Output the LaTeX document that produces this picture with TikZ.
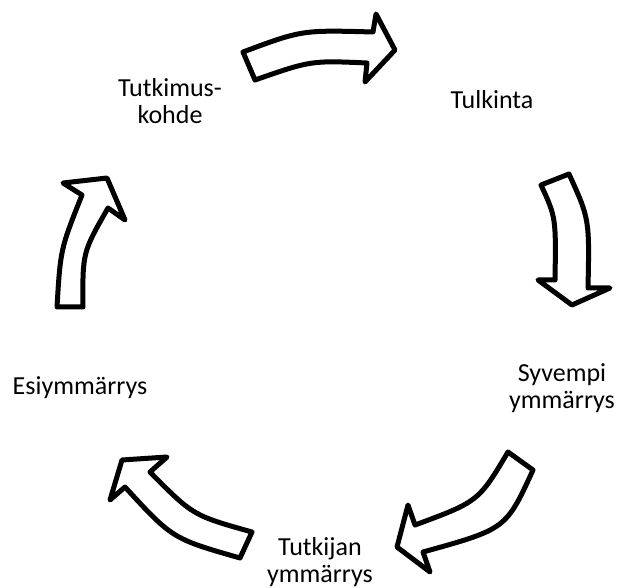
\documentclass[tikz,border=0pt]{standalone}
\usepackage{fontspec}
\setmainfont{Carlito}
\begin{document}
\begin{tikzpicture}[x=1pt,y=-1pt,
  cyclearrow/.style={draw=black,fill=white,line width=5pt,line join=round},
  lbl/.style={inner sep=0pt,align=center,anchor=base,font=\fontsize{26}{27}\selectfont,text=black}]
\useasboundingbox (0,0) rectangle (619,588);
% arrows
\draw[cyclearrow] (243,52) .. controls (302,30) .. (373,32) -- (376,14) -- (395,50) -- (365,82) -- (367,63) .. controls (311,60.5) .. (255,80) -- cycle;
\draw[cyclearrow] (541,185) .. controls (556,217.5) .. (555,280) -- (538,280) -- (572,305) -- (610,288) -- (588,288) .. controls (589.5,219) .. (569,174) -- cycle;
\draw[cyclearrow] (508,452) .. controls (478.5,501.5) .. (415,525) -- (408,505) -- (397,547) -- (430,572) -- (423,552) .. controls (506,529) .. (533,470) -- cycle;
\draw[cyclearrow] (252,532) .. controls (193,515.5) .. (150,472) -- (167,457) -- (122,460) -- (110,500) -- (125,487) .. controls (172.5,538.7) .. (240,558) -- cycle;
\draw[cyclearrow] (57,307) .. controls (60.5,249) .. (82,195) -- (63,183) -- (107,178) -- (125,220) -- (108,208) .. controls (82.5,252.5) .. (83,307) -- cycle;
% labels
\node[lbl] (kohde) at (170,124) {Tutkimus-\\kohde};
\node[lbl] (tulkinta) at (492,109) {Tulkinta};
\node[lbl] (syvempi) at (562,408) {Syvempi\\ymmärrys};
\node[lbl] (tutkijan) at (320,582) {Tutkijan\\ymmärrys};
\node[lbl] (esi) at (80,394) {Esiymmärrys};
\end{tikzpicture}
\end{document}
